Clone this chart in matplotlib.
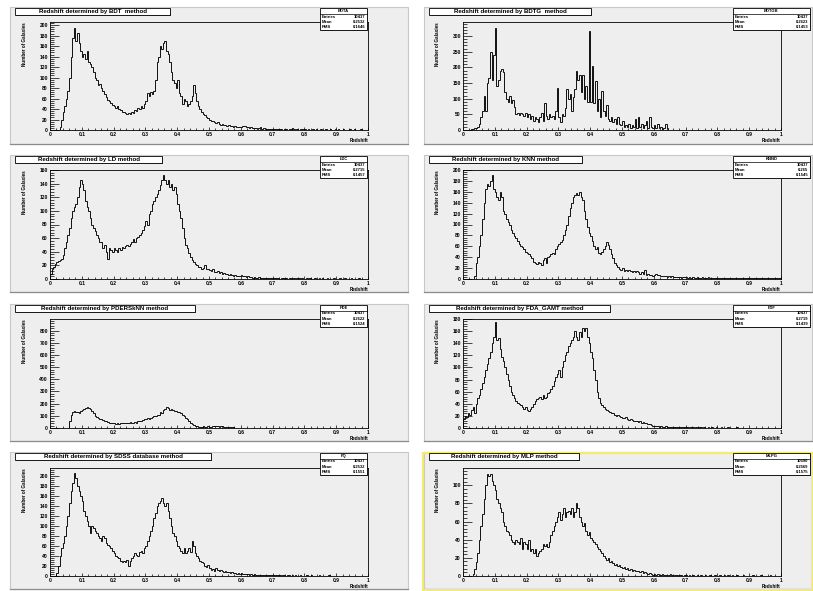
import numpy as np
import matplotlib.pyplot as plt
from matplotlib.patches import Rectangle
from matplotlib.ticker import MultipleLocator, AutoMinorLocator, FuncFormatter

plt.rcParams['font.family'] = ['Liberation Sans', 'DejaVu Sans']

# histogram counts, bins of 0.005 in redshift from 0 to 1 (one row = 0.1)
bdt = [0, 0, 0, 0, 0, 0, 5, 20, 35, 45, 60, 75, 100, 140, 175, 195, 170, 185, 165, 150,
       140, 145, 135, 150, 130, 125, 120, 110, 100, 95, 85, 88, 80, 75, 68, 62, 58, 55, 52, 48,
       45, 42, 45, 40, 38, 35, 35, 33, 30, 32, 30, 35, 33, 38, 36, 42, 40, 45, 42, 50,
       55, 70, 65, 72, 68, 75, 95, 130, 140, 160, 155, 165, 170, 150, 145, 130, 110, 95, 90, 80,
       95, 70, 65, 50, 60, 55, 45, 50, 55, 65, 85, 70, 55, 45, 40, 35, 30, 28, 25, 22,
       20, 18, 17, 15, 14, 15, 12, 10, 12, 10, 9, 8, 9, 7, 8, 6, 7, 6, 5, 6,
       5, 7, 8, 5, 6, 4, 5, 3, 4, 3, 2, 3, 5, 2, 3, 2, 2, 1, 2, 1,
       1, 2, 1, 1, 2, 1, 0, 1, 1, 0, 1, 1, 3, 1, 0, 1, 0, 1, 1, 0,
       1, 0, 1, 0, 0, 1, 0, 1, 0, 0, 1, 0, 0, 1, 0, 0, 1, 0, 0, 1,
       0, 1, 0, 0, 1, 0, 0, 0, 1, 0, 0, 1, 0, 0, 0, 1, 0, 0, 0, 0]
bdtg = [0, 0, 0, 0, 1, 2, 3, 5, 5, 10, 20, 40, 60, 110, 60, 150, 165, 250, 160, 240,
        325, 140, 160, 190, 195, 185, 120, 100, 90, 110, 85, 95, 75, 50, 55, 48, 55, 50, 45, 55,
        40, 50, 35, 45, 30, 40, 35, 25, 40, 55, 30, 85, 45, 35, 50, 40, 45, 35, 60, 135,
        40, 25, 50, 45, 70, 130, 100, 115, 60, 105, 130, 190, 160, 175, 120, 175, 100, 140, 90, 315,
        90, 205, 85, 155, 60, 100, 40, 125, 60, 45, 80, 35, 30, 40, 25, 35, 20, 40, 20, 15,
        30, 10, 15, 10, 20, 5, 15, 10, 35, 5, 40, 10, 20, 5, 15, 30, 5, 40, 10, 5,
        15, 5, 20, 5, 10, 0, 5, 20, 5, 0, 0, 0, 0, 0, 0, 0, 0, 0, 0, 0,
        0, 0, 0, 0, 0, 0, 0, 0, 0, 0, 0, 0, 0, 0, 0, 0, 0, 0, 0, 0,
        0, 0, 0, 0, 0, 0, 0, 0, 0, 0, 0, 0, 0, 0, 0, 0, 0, 0, 0, 0,
        0, 0, 0, 0, 0, 0, 0, 0, 0, 0, 0, 0, 0, 0, 0, 0, 0, 0, 0, 0]
ld = [8, 15, 18, 22, 25, 27, 28, 30, 35, 45, 55, 65, 75, 90, 100, 105, 110, 120, 135, 145,
      140, 130, 115, 105, 100, 90, 80, 75, 70, 65, 60, 55, 55, 45, 50, 40, 30, 45, 42, 40,
      45, 42, 40, 45, 43, 47, 45, 48, 50, 48, 52, 55, 58, 55, 60, 62, 65, 68, 72, 78,
      85, 80, 95, 100, 110, 115, 120, 125, 130, 138, 145, 152, 145, 140, 145, 135, 140, 130, 135, 125,
      110, 100, 90, 75, 60, 50, 45, 38, 32, 28, 25, 22, 20, 18, 17, 15, 16, 20, 14, 15,
      13, 12, 14, 11, 10, 12, 9, 10, 8, 9, 7, 8, 6, 7, 6, 5, 6, 5, 4, 5,
      6, 4, 5, 3, 4, 3, 3, 2, 3, 2, 2, 3, 2, 1, 2, 1, 2, 2, 1, 2,
      1, 1, 2, 1, 0, 1, 1, 2, 1, 0, 1, 1, 0, 1, 0, 1, 1, 0, 1, 0,
      0, 1, 0, 1, 0, 0, 1, 0, 0, 1, 0, 1, 0, 0, 1, 0, 0, 0, 1, 0,
      0, 0, 1, 0, 0, 1, 0, 0, 0, 1, 0, 0, 0, 0, 1, 0, 0, 0, 0, 0]
knn = [0, 0, 0, 0, 0, 0, 0, 5, 30, 40, 60, 80, 110, 140, 165, 175, 170, 180, 190, 165,
       160, 150, 145, 160, 150, 125, 120, 110, 105, 100, 90, 85, 78, 75, 70, 65, 60, 58, 55, 50,
       48, 45, 42, 38, 32, 30, 28, 32, 30, 25, 35, 38, 30, 40, 42, 45, 48, 45, 55, 60,
       65, 68, 72, 80, 90, 100, 115, 130, 140, 150, 155, 158, 155, 160, 150, 145, 125, 110, 95, 85,
       78, 70, 60, 55, 58, 48, 45, 50, 55, 60, 68, 62, 55, 45, 38, 30, 25, 22, 18, 17,
       20, 15, 17, 14, 16, 15, 13, 14, 12, 15, 12, 10, 12, 9, 16, 8, 9, 7, 8, 6,
       8, 10, 7, 8, 6, 5, 6, 5, 4, 5, 4, 5, 3, 4, 3, 4, 3, 2, 4, 3,
       3, 2, 3, 2, 3, 2, 2, 3, 2, 2, 3, 2, 2, 2, 3, 2, 2, 1, 2, 2,
       2, 2, 1, 2, 2, 1, 2, 2, 1, 2, 1, 2, 2, 1, 2, 1, 2, 1, 1, 2,
       1, 2, 1, 1, 2, 1, 1, 2, 1, 1, 1, 2, 1, 1, 1, 2, 1, 1, 1, 1]
pders = [0, 0, 0, 0, 0, 0, 0, 0, 0, 0, 0, 0, 60, 110, 130, 140, 135, 130, 125, 140,
         150, 160, 165, 170, 165, 160, 140, 120, 100, 90, 80, 75, 70, 65, 60, 55, 50, 45, 42, 40,
         38, 35, 38, 36, 40, 38, 42, 40, 45, 42, 48, 40, 45, 50, 45, 55, 60, 58, 65, 70,
         75, 80, 78, 85, 90, 95, 100, 110, 105, 130, 125, 145, 160, 175, 165, 150, 155, 145, 140, 140,
         135, 130, 120, 110, 100, 85, 75, 60, 45, 35, 25, 18, 15, 12, 10, 12, 15, 10, 12, 15,
         10, 12, 15, 20, 15, 18, 12, 15, 18, 12, 10, 8, 10, 8, 6, 5, 4, 3, 2, 1,
         0, 0, 0, 0, 0, 0, 0, 0, 0, 0, 0, 0, 0, 0, 0, 0, 0, 0, 0, 0,
         0, 0, 0, 0, 0, 0, 0, 0, 0, 0, 0, 0, 0, 0, 0, 0, 0, 0, 0, 0,
         0, 0, 0, 0, 0, 0, 0, 0, 0, 0, 0, 0, 0, 0, 0, 0, 0, 0, 0, 0,
         0, 0, 0, 0, 0, 0, 0, 0, 0, 0, 0, 0, 0, 0, 0, 0, 0, 0, 0, 0]
fda = [15, 20, 18, 25, 22, 30, 35, 25, 40, 50, 55, 65, 75, 85, 95, 105, 115, 125, 140, 150,
       175, 145, 148, 130, 118, 110, 100, 90, 80, 70, 60, 55, 50, 45, 42, 40, 38, 35, 32, 35,
       30, 28, 32, 35, 40, 45, 48, 50, 52, 48, 55, 50, 52, 58, 60, 65, 70, 78, 85, 90,
       95, 85, 100, 110, 120, 125, 135, 140, 145, 150, 160, 150, 145, 158, 150, 165, 160, 165, 150, 140,
       125, 115, 95, 80, 60, 50, 42, 38, 35, 32, 30, 28, 27, 25, 24, 22, 20, 21, 19, 18,
       17, 16, 18, 15, 14, 15, 13, 12, 11, 12, 10, 11, 9, 10, 8, 9, 7, 6, 5, 4,
       4, 3, 3, 2, 3, 2, 2, 3, 2, 2, 1, 2, 1, 2, 1, 1, 2, 1, 1, 1,
       1, 1, 0, 1, 1, 0, 1, 0, 1, 1, 0, 1, 0, 0, 1, 0, 1, 0, 0, 1,
       0, 0, 1, 0, 0, 0, 1, 0, 0, 0, 0, 0, 1, 0, 0, 0, 0, 0, 0, 0,
       0, 0, 0, 0, 0, 0, 0, 0, 0, 0, 0, 0, 0, 0, 0, 0, 0, 0, 0, 0]
sdss = [0, 0, 0, 0, 5, 20, 40, 55, 65, 80, 100, 120, 145, 170, 185, 205, 195, 180, 170, 160,
        150, 130, 120, 110, 100, 85, 100, 95, 90, 85, 80, 75, 70, 80, 75, 65, 62, 60, 55, 50,
        45, 40, 38, 35, 30, 28, 30, 28, 32, 20, 30, 35, 40, 45, 42, 40, 48, 50, 45, 55,
        60, 70, 80, 90, 100, 115, 125, 140, 145, 150, 155, 145, 140, 145, 130, 115, 100, 85, 80, 70,
        60, 55, 50, 45, 55, 45, 50, 55, 48, 70, 60, 45, 40, 35, 30, 28, 25, 20, 18, 22,
        15, 12, 14, 10, 15, 12, 10, 12, 9, 8, 10, 7, 8, 6, 7, 5, 6, 4, 5, 3,
        5, 4, 3, 4, 3, 2, 3, 2, 3, 2, 2, 1, 2, 2, 1, 2, 1, 1, 2, 1,
        1, 1, 2, 1, 1, 0, 1, 1, 0, 1, 1, 0, 1, 0, 1, 0, 0, 1, 0, 0,
        0, 1, 0, 0, 1, 0, 0, 0, 0, 1, 0, 0, 0, 0, 0, 1, 0, 0, 0, 0,
        0, 0, 0, 0, 0, 0, 0, 0, 0, 0, 0, 0, 0, 0, 0, 0, 0, 0, 0, 0]
mlp = [0, 0, 0, 0, 0, 0, 2, 8, 15, 25, 40, 55, 68, 85, 100, 112, 110, 112, 105, 100,
       95, 85, 80, 75, 70, 60, 55, 50, 48, 45, 40, 38, 35, 40, 38, 35, 42, 30, 38, 35,
       30, 40, 28, 30, 25, 30, 22, 25, 28, 30, 35, 33, 35, 32, 38, 45, 50, 55, 60, 65,
       70, 62, 68, 75, 65, 70, 72, 68, 75, 65, 70, 80, 75, 65, 60, 55, 58, 50, 45, 48,
       42, 40, 38, 35, 32, 30, 28, 25, 22, 20, 18, 20, 15, 17, 14, 12, 13, 11, 12, 10,
       9, 10, 8, 9, 7, 8, 6, 7, 5, 6, 5, 4, 5, 3, 4, 3, 2, 3, 2, 1,
       2, 1, 2, 1, 1, 2, 1, 1, 0, 1, 2, 1, 0, 1, 1, 0, 1, 1, 0, 1,
       1, 0, 1, 0, 1, 0, 0, 1, 0, 1, 0, 0, 1, 0, 0, 1, 0, 0, 1, 0,
       0, 1, 0, 0, 1, 0, 1, 0, 0, 1, 0, 0, 1, 0, 0, 0, 1, 0, 0, 0,
       0, 0, 1, 0, 0, 0, 0, 1, 0, 0, 0, 0, 0, 1, 0, 0, 0, 0, 0, 0]

hists = [bdt, bdtg, ld, knn, pders, fda, sdss, mlp]
titles = ['Redshift determined by BDT  method', 'Redshift determined by BDTG  method',
          'Redshift determined by LD method', 'Redshift determined by KNN method',
          'Redshift determined by PDERSkNN method', 'Redshift determined by FDA_GAMT method',
          'Redshift determined by SDSS database method', 'Redshift determined by MLP method']
stat_names = ['BDTA', 'BDTGB', 'LDC', 'KNND', 'PDE', 'FDF', 'FQ', 'MLPG']
entries = ['10437', '10437', '10437', '10437', '10437', '10437', '10437', '10590']
means = ['0.2532', '0.2623', '0.2715', '0.265', '0.2622', '0.2719', '0.2532', '0.2569']
rms = ['0.1646', '0.1453', '0.1457', '0.1545', '0.1524', '0.1439', '0.1551', '0.1575']
y_max = [206, 345, 160, 200, 895, 180, 215, 119]
y_step = [20, 50, 20, 20, 100, 20, 20, 20]

edges = np.linspace(0, 1, len(bdt) + 1)

W, H = 813, 591
fig = plt.figure(figsize=(W / 100, H / 100), dpi=100)
fig.patch.set_facecolor('white')


def rect(x0, y0, x1, y1, **kw):
    # pixel coords, y measured from top
    r = Rectangle((x0 / W, 1 - y1 / H), (x1 - x0) / W, (y1 - y0) / H,
                  transform=fig.transFigure, **kw)
    fig.add_artist(r)


def ftext(x, y, s, **kw):
    fig.text(x / W, 1 - y / H, s, fontweight='bold', zorder=7, **kw)


pad_x = [(10, 408), (424, 812)]
pad_top = [7, 155, 304, 452]
ax_x = [(50, 368), (463, 781)]
ax_y = [(22, 130), (170, 279), (319, 428), (468, 576)]
title_w = [155, 162, 147, 153, 180, 181, 196, 150]
stat_x = [(320, 367), (733, 810)]
gray = '#eeeeee'
fmt = FuncFormatter(lambda v, p: f'{v:g}')

for i in range(8):
    col, row = i % 2, i // 2
    px0, px1 = pad_x[col]
    pt = pad_top[row]
    pb = pt + 137
    rect(px0, pt, px1, pb, facecolor=gray, edgecolor='#c8c8c8', lw=0.8, zorder=-2)
    fig.add_artist(plt.Line2D([px0 / W, px1 / W], [1 - pb / H] * 2, color='#8c8c8c',
                              lw=0.9, transform=fig.transFigure, zorder=-1))
    if i == 7:
        rect(px0 - 1, pt + 1, px1, pb + 1, facecolor='none', edgecolor='#f3ec6e',
             lw=1.6, zorder=-1)

    ax0, ax1 = ax_x[col]
    ay0, ay1 = ax_y[row]
    ax = fig.add_axes([ax0 / W, 1 - ay1 / H, (ax1 - ax0) / W, (ay1 - ay0) / H])
    ax.set_facecolor(gray)
    ax.stairs(hists[i], edges, color='#111111', lw=0.7)
    ax.set_xlim(0, 1)
    ax.set_ylim(0, y_max[i])
    ax.xaxis.set_major_locator(MultipleLocator(0.1))
    ax.xaxis.set_minor_locator(AutoMinorLocator(5))
    ax.yaxis.set_major_locator(MultipleLocator(y_step[i]))
    ax.yaxis.set_minor_locator(AutoMinorLocator(5))
    ax.xaxis.set_major_formatter(fmt)
    ax.yaxis.set_major_formatter(fmt)
    ax.tick_params(which='both', direction='in', width=0.5, labelsize=3.6, pad=1.5)
    ax.tick_params(axis='x', which='major', length=2.4)
    ax.tick_params(axis='x', which='minor', length=1.2)
    ax.tick_params(axis='y', which='major', length=6.5)
    ax.tick_params(axis='y', which='minor', length=3.2)
    for lab in ax.get_xticklabels() + ax.get_yticklabels():
        lab.set_fontweight('bold')
    for sp in ax.spines.values():
        sp.set_linewidth(0.6)
    ax.text(-0.079, 1.0, 'Number of Galaxies', transform=ax.transAxes, rotation=90,
            ha='center', va='top', fontsize=3.3, fontweight='bold')
    ax.text(1.0, -0.075, 'Redshift', transform=ax.transAxes, ha='right', va='top',
            fontsize=3.3, fontweight='bold')

    # title box
    tx0 = px0 + 5
    tx1 = tx0 + title_w[i]
    rect(tx0 + 1, pt + 2, tx1 + 1, pt + 9, facecolor='#555555', edgecolor='none', zorder=5)
    rect(tx0, pt + 1, tx1, pt + 8, facecolor='white', edgecolor='black', lw=0.6, zorder=6)
    ftext((tx0 + tx1) / 2, pt + 4.7, titles[i], ha='center', va='center', fontsize=4.4)

    # stats box
    sx0, sx1 = stat_x[col]
    sy0, sy1 = pt + 1, pt + 23
    rect(sx0 + 1, sy0 + 1, sx1 + 1, sy1 + 1, facecolor='#555555', edgecolor='none', zorder=5)
    rect(sx0, sy0, sx1, sy1, facecolor='white', edgecolor='black', lw=0.6, zorder=6)
    fig.add_artist(plt.Line2D([sx0 / W, sx1 / W], [1 - (sy0 + 5.5) / H] * 2, color='black',
                              lw=0.5, transform=fig.transFigure, zorder=7))
    ftext((sx0 + sx1) / 2, sy0 + 2.8, stat_names[i], ha='center', va='center', fontsize=3)
    for k, (lab, val) in enumerate(zip(['Entries', 'Mean', 'RMS'],
                                       [entries[i], means[i], rms[i]])):
        yy = sy0 + 8.5 + k * 5.2
        ftext(sx0 + 2, yy, lab, ha='left', va='center', fontsize=3)
        ftext(sx1 - 2, yy, val, ha='right', va='center', fontsize=3)

fig.savefig('out.png', dpi=100)
